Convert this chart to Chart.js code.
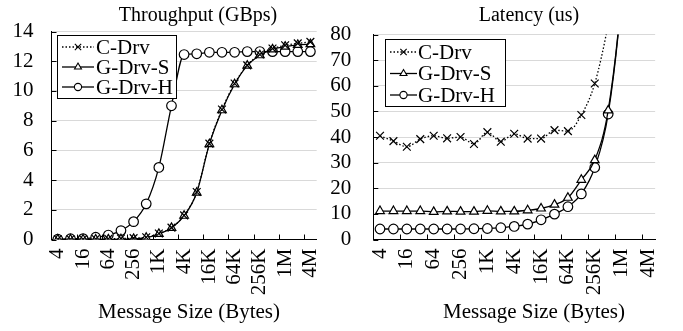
<!DOCTYPE html>
<html>
<head>
<meta charset="utf-8">
<script src="https://cdn.jsdelivr.net/npm/chart.js@4/dist/chart.umd.min.js"></script>
<style>
  html, body { margin: 0; padding: 0; background: #fff; }
  #wrap { position: relative; width: 683px; height: 331px; overflow: hidden; background: #fff; }
  .pane { position: absolute; top: 0; }
</style>
</head>
<body>
<div id="wrap">
  <div class="pane" style="left:0px;"><canvas id="c1" width="345" height="331"></canvas></div>
  <div class="pane" style="left:320px;"><canvas id="c2" width="363" height="331"></canvas></div>
</div>
<script>
// ---- data ----
const sizes = ['4','8','16','32','64','128','256','512','1K','2K','4K','8K','16K','32K','64K','128K','256K','512K','1M','2M','4M'];
const seriesNames = ['C-Drv', 'G-Drv-S', 'G-Drv-H'];

const tputC = [0.02,0.02,0.02,0.03,0.04,0.07,0.09,0.15,0.4,0.8,1.62,3.2,6.45,8.75,10.5,11.72,12.45,12.85,13.07,13.2,13.3];
const tputS = [0,0,0,0,0.01,0.02,0.04,0.12,0.38,0.78,1.6,3.15,6.42,8.7,10.45,11.7,12.4,12.8,12.98,13.1,13.15];
const tputH = [0.02,0.05,0.06,0.15,0.3,0.6,1.2,2.4,4.85,9.0,12.45,12.5,12.6,12.6,12.6,12.65,12.65,12.65,12.65,12.65,12.65];

const latC = [40.5,38.4,36.2,39.2,40.5,39.5,40.0,37.3,41.9,38.2,41.3,39.4,39.4,42.7,42.3,48.6,60.9,84,115,200,380];
const latS = [11.1,11.1,11.1,11.1,10.8,11.0,10.9,10.9,11.2,11.0,11.0,11.4,12.1,13.6,16.3,23.3,31.0,50.4,96,180,350];
const latH = [4.1,4.1,4.1,4.1,4.1,4.1,4.1,4.2,4.3,4.6,5.1,6.0,7.7,9.9,12.8,17.8,28.1,49.0,95,175,345];

const tputTicks = { min: 0, max: 14, step: 2 };
const latTicks = { min: 0, max: 80, step: 10 };

// ---- styles ----
const FONT = '"Liberation Serif", "Times New Roman", Times, serif';
Chart.defaults.font.family = FONT;
Chart.defaults.font.size = 21;
Chart.defaults.color = '#000';

const styles = [
  { pointStyle: 'crossRot', radius: 5.5, legendR: 4.5, dash: [1.5, 2] },
  { pointStyle: 'triangle', radius: 5, legendR: 4, dash: [] },
  { pointStyle: 'circle', radius: 4.8, legendR: 3.6, dash: [] }
];

function drawMarker(ctx, style, x, y, r) {
  ctx.beginPath();
  if (style === 'circle') {
    ctx.arc(x, y, r, 0, Math.PI * 2);
    ctx.closePath();
    ctx.fill(); ctx.stroke();
  } else if (style === 'triangle') {
    let rad = 0;
    ctx.moveTo(x + Math.sin(rad) * r, y - Math.cos(rad) * r);
    rad += 2 * Math.PI / 3;
    ctx.lineTo(x + Math.sin(rad) * r, y - Math.cos(rad) * r);
    rad += 2 * Math.PI / 3;
    ctx.lineTo(x + Math.sin(rad) * r, y - Math.cos(rad) * r);
    ctx.closePath();
    ctx.fill(); ctx.stroke();
  } else {
    const d = Math.cos(Math.PI / 4) * r;
    ctx.moveTo(x - d, y - d); ctx.lineTo(x + d, y + d);
    ctx.moveTo(x - d, y + d); ctx.lineTo(x + d, y - d);
    ctx.stroke();
  }
}

const decorPlugin = {
  id: 'decor',
  afterDraw(chart) {
    const o = chart.options.plugins.decor;
    const { ctx, chartArea: ca, scales: { x, y } } = chart;
    ctx.save();
    // inner tick marks
    ctx.strokeStyle = '#000';
    ctx.lineWidth = 1;
    ctx.setLineDash([]);
    ctx.beginPath();
    for (let i = 2; i < sizes.length; i += 2) {
      const px = Math.round((x.getPixelForValue(i - 1) + x.getPixelForValue(i)) / 2) + 0.5;
      ctx.moveTo(px, ca.bottom);
      ctx.lineTo(px, ca.bottom - 5);
    }
    y.ticks.forEach(t => {
      const py = Math.round(y.getPixelForValue(t.value)) + 0.5;
      ctx.moveTo(ca.left, py);
      ctx.lineTo(ca.left + 5, py);
    });
    ctx.stroke();

    // titles
    ctx.fillStyle = '#000';
    ctx.textAlign = 'center';
    ctx.textBaseline = 'alphabetic';
    ctx.font = '20px ' + FONT;
    ctx.fillText(o.title, o.titleX, 21);
    ctx.font = '21px ' + FONT;
    ctx.fillText('Message Size (Bytes)', o.xTitleX, 318);

    // legend
    const L = o.legend;
    ctx.fillStyle = '#fff';
    ctx.fillRect(L.x, L.y, L.w, L.h);
    ctx.strokeStyle = '#000';
    ctx.lineWidth = 1;
    ctx.strokeRect(Math.round(L.x) + 0.5, Math.round(L.y) + 0.5, L.w, L.h);
    ctx.textAlign = 'left';
    ctx.textBaseline = 'middle';
    ctx.font = '21px ' + FONT;
    seriesNames.forEach((name, i) => {
      const st = styles[i];
      const cy = L.y + L.first + i * L.rowH;
      ctx.strokeStyle = '#000';
      ctx.lineWidth = 1.3;
      ctx.setLineDash(st.dash);
      ctx.beginPath();
      ctx.moveTo(L.x + L.lineX0, cy);
      ctx.lineTo(L.x + L.lineX1, cy);
      ctx.stroke();
      ctx.setLineDash([]);
      ctx.lineWidth = 1.1;
      ctx.fillStyle = '#fff';
      drawMarker(ctx, st.pointStyle, L.x + (L.lineX0 + L.lineX1) / 2, cy, st.legendR);
      ctx.fillStyle = '#000';
      ctx.fillText(name, L.x + L.textX, cy + 1);
    });
    ctx.restore();
  }
};

function makeChart(id, data, ticks, opts) {
  const datasets = data.map((d, i) => ({
    label: seriesNames[i],
    data: d,
    borderColor: '#000',
    backgroundColor: '#fff',
    borderWidth: 1.3,
    borderDash: styles[i].dash,
    pointStyle: styles[i].pointStyle,
    pointRadius: styles[i].radius,
    pointBorderWidth: 1.2,
    pointBorderColor: '#000',
    pointBackgroundColor: '#fff',
    tension: 0.25,
    cubicInterpolationMode: 'monotone',
    fill: false
  }));
  return new Chart(document.getElementById(id), {
    type: 'line',
    data: { labels: sizes, datasets },
    options: {
      responsive: false,
      animation: false,
      layout: { padding: { top: 31.5, right: opts.padRight, bottom: 0, left: 0 } },
      plugins: {
        legend: { display: false },
        tooltip: { enabled: false },
        title: { display: false },
        decor: opts.decor
      },
      scales: {
        x: {
          type: 'category',
          offset: true,
          grid: { display: true, drawOnChartArea: false, drawTicks: false, offset: true },
          border: { display: true, color: '#000', width: 1 },
          ticks: {
            autoSkip: false,
            minRotation: 90,
            maxRotation: 90,
            padding: 9,
            font: { size: 21 },
            callback: (v, i) => (i % 2 === 0 ? sizes[i] : '')
          },
          afterFit: s => { s.height = 91.5; }
        },
        y: {
          min: ticks.min,
          max: ticks.max,
          grid: { color: '#d9d9d9', lineWidth: 1, drawTicks: false },
          border: { display: true, color: '#000', width: 1 },
          ticks: { stepSize: ticks.step, autoSkip: false, padding: opts.yPad, font: { size: 21 } },
          afterFit: s => { s.width = opts.yWidth; }
        }
      }
    },
    plugins: [decorPlugin]
  });
}

makeChart('c1', [tputC, tputS, tputH], tputTicks, {
  padRight: 17.5, yWidth: 51.5, yPad: 18,
  decor: {
    title: 'Throughput (GBps)', titleX: 198, xTitleX: 189,
    legend: { x: 57, y: 35, w: 119, h: 63, first: 12, rowH: 20, lineX0: 5, lineX1: 37, textX: 39 }
  }
});
makeChart('c2', [latC, latS, latH], latTicks, {
  padRight: 15, yWidth: 53.3, yPad: 22,
  decor: {
    title: 'Latency (us)', titleX: 529 - 320, xTitleX: 534 - 320,
    legend: { x: 385 - 320, y: 39, w: 120, h: 67, first: 13, rowH: 21.5, lineX0: 5, lineX1: 32, textX: 33 }
  }
});
</script>
</body>
</html>
